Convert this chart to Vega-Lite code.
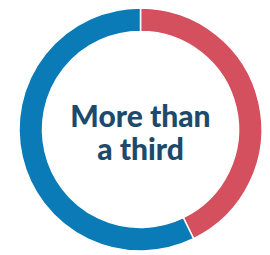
{
  "$schema": "https://vega.github.io/schema/vega-lite/v6.json",
  "width": 243,
  "height": 243,
  "autosize": {"type": "none"},
  "padding": {"left": 19, "top": 8, "right": 8, "bottom": 4},
  "background": "white",
  "view": {"stroke": null},
  "layer": [
    {
      "data": {"values": [
        {"group": "More than a third", "share": 42.8, "rank": 1},
        {"group": "Rest", "share": 57.2, "rank": 2}
      ]},
      "mark": {"type": "arc", "outerRadius": 121.5, "innerRadius": 98, "stroke": "white", "strokeWidth": 1.5},
      "encoding": {
        "theta": {"field": "share", "type": "quantitative", "stack": true},
        "order": {"field": "rank", "type": "quantitative"},
        "color": {
          "field": "group", "type": "nominal",
          "scale": {"domain": ["More than a third", "Rest"], "range": ["#d5505e", "#0a7bb6"]},
          "legend": null
        }
      }
    },
    {
      "data": {"values": [{"label": ["More than", "a third"]}]},
      "mark": {"type": "text", "font": "Lato", "fontWeight": 900, "fontSize": 30, "lineHeight": 33, "baseline": "middle", "align": "center", "color": "#1d4a6a", "dy": -12},
      "encoding": {"text": {"field": "label"}}
    }
  ]
}
